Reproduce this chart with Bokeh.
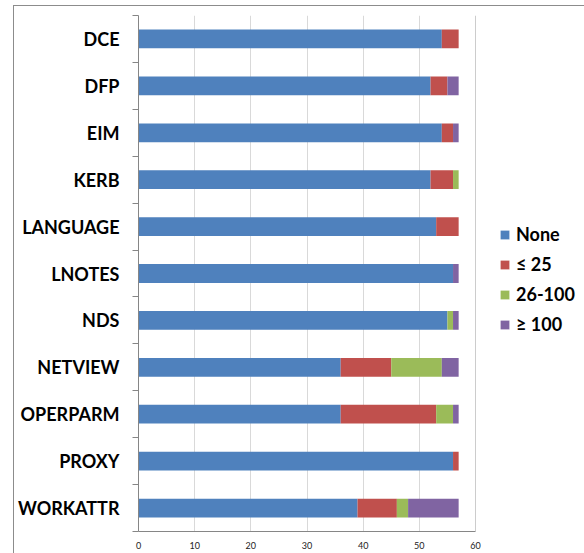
from bokeh.plotting import figure
from bokeh.models import (Range1d, FixedTicker, Legend, LegendItem, Span,
                          ColumnDataSource)
from bokeh.embed import file_html
from bokeh.resources import INLINE

categories = ["DCE", "DFP", "EIM", "KERB", "LANGUAGE", "LNOTES", "NDS",
              "NETVIEW", "OPERPARM", "PROXY", "WORKATTR"]
none_vals = [54, 52, 54, 52, 53, 56, 55, 36, 36, 56, 39]
le25_vals = [3, 3, 2, 4, 4, 0, 0, 9, 17, 1, 7]
mid_vals = [0, 0, 0, 1, 0, 0, 1, 9, 3, 0, 2]
ge100_vals = [0, 2, 1, 0, 0, 1, 1, 3, 1, 0, 9]
series_labels = ["None", "\u2264 25", "26-100", "\u2265 100"]
series_colors = ["#4F81BD", "#C0504D", "#9BBB59", "#8064A2"]
x_ticks = [0, 10, 20, 30, 40, 50, 60]

n = len(categories)
ypos = [n - i for i in range(n)]

source = ColumnDataSource(dict(y=ypos, none=none_vals, le25=le25_vals,
                               mid=mid_vals, ge100=ge100_vals))

p = figure(width=570, height=547, output_backend="svg", toolbar_location=None,
           x_range=Range1d(0, 60), y_range=Range1d(0.5, n + 0.5),
           min_border_left=124, min_border_right=109, min_border_top=9,
           min_border_bottom=22)
p.frame_width = 337
p.frame_height = 516
p.outline_line_color = None
p.background_fill_color = "white"
p.border_fill_color = "white"
p.margin = (5, 0, 0, 13)
p.styles = {"border-left": "1px solid #8c8c8c", "border-top": "1px solid #8c8c8c"}

renderers = p.hbar_stack(["none", "le25", "mid", "ge100"], y="y", height=0.4,
                         color=series_colors, source=source, line_color=None)

# grid
p.ygrid.grid_line_color = None
p.xgrid.grid_line_color = "#d9d9d9"
p.xgrid.ticker = FixedTicker(ticks=x_ticks)
p.add_layout(Span(location=60, dimension="height", line_color="#9a9a9a",
                  line_width=1))

# x axis
p.xaxis.ticker = FixedTicker(ticks=x_ticks)
p.xaxis.axis_line_color = "#868686"
p.xaxis.major_tick_in = 0
p.xaxis.major_tick_out = 0
p.xaxis.minor_tick_line_color = None
p.xaxis.major_label_text_font = "Lato"
p.xaxis.major_label_text_font_size = "9px"
p.xaxis.major_label_text_color = "#222222"
p.xaxis.major_label_standoff = 10

# y axis
p.yaxis.ticker = FixedTicker(ticks=ypos, minor_ticks=[k + 0.5 for k in range(n + 1)])
p.yaxis.major_label_overrides = {yy: c for yy, c in zip(ypos, categories)}
p.yaxis.axis_line_color = "#868686"
p.yaxis.major_tick_in = 0
p.yaxis.major_tick_out = 0
p.yaxis.minor_tick_in = 0
p.yaxis.minor_tick_out = 6
p.yaxis.minor_tick_line_color = "#868686"
p.yaxis.major_label_text_font = "Lato"
p.yaxis.major_label_text_font_style = "bold"
p.yaxis.major_label_text_font_size = "18px"
p.yaxis.major_label_text_color = "black"
p.yaxis.major_label_standoff = 13

# legend
items = [LegendItem(label=lab, renderers=[r]) for lab, r in zip(series_labels, renderers)]
legend = Legend(items=items, location=(24, 196), orientation="vertical",
                glyph_width=11, glyph_height=11, label_standoff=6, spacing=8,
                padding=0, margin=0, border_line_color=None,
                background_fill_alpha=0, label_text_font="Lato",
                label_text_font_style="bold", label_text_font_size="18px",
                label_text_color="black", label_height=20)
p.add_layout(legend, "right")

open("out.html", "w").write(file_html(p, INLINE))
